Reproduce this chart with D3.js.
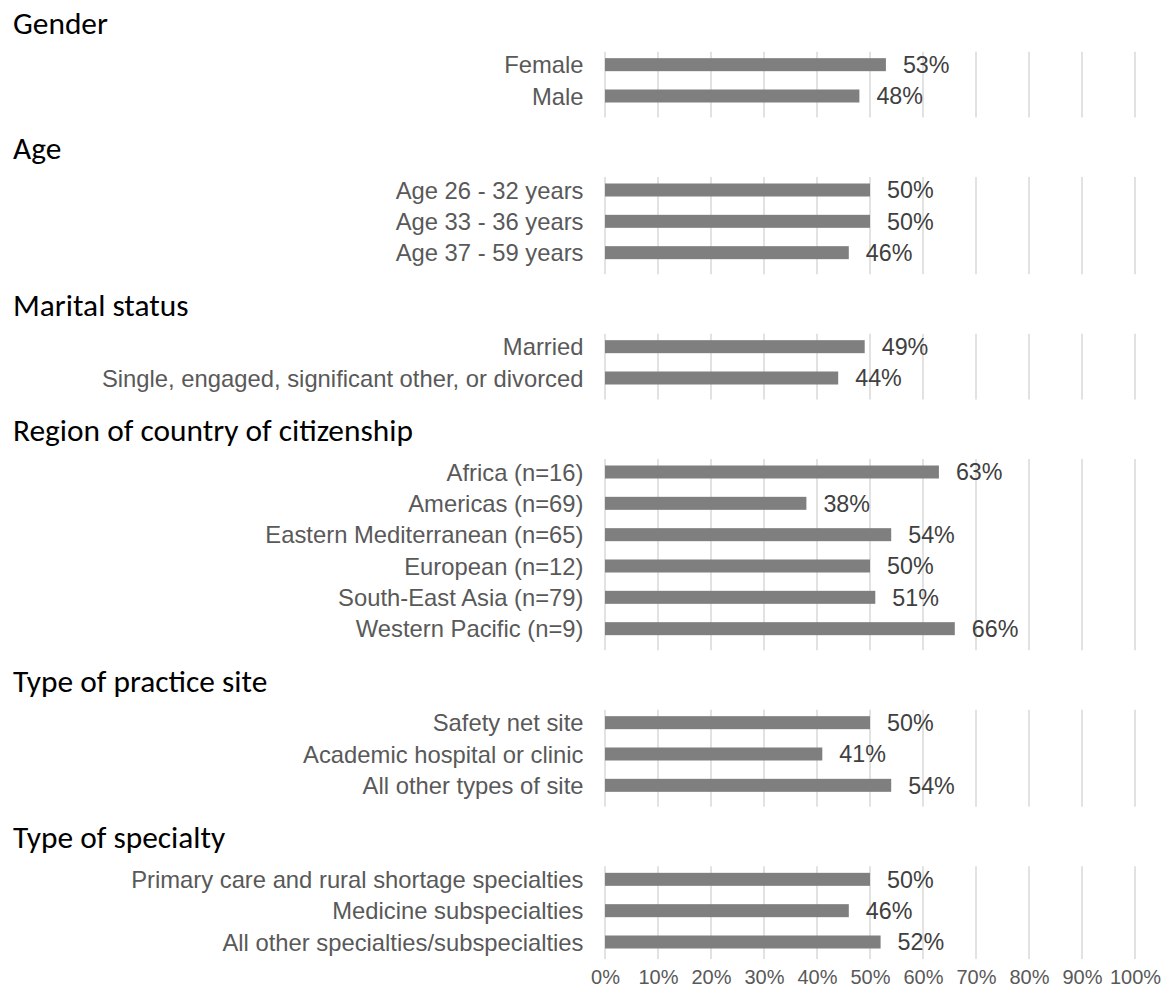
<!DOCTYPE html>
<html>
<head>
<meta charset="utf-8">
<script src="https://cdn.jsdelivr.net/npm/d3@7"></script>
<style>
  html, body { margin: 0; padding: 0; background: #fff; }
  svg { display: block; }
</style>
</head>
<body>
<svg id="chart" width="1175" height="994"></svg>
<script>
// ---- data ----
const groups = ["Gender", "Age", "Marital status", "Region of country of citizenship", "Type of practice site", "Type of specialty"];
const genderLabels = ["Female", "Male"];
const genderValues = [0.53, 0.48];
const ageLabels = ["Age 26 - 32 years", "Age 33 - 36 years", "Age 37 - 59 years"];
const ageValues = [0.50, 0.50, 0.46];
const maritalLabels = ["Married", "Single, engaged, significant other, or divorced"];
const maritalValues = [0.49, 0.44];
const regionLabels = ["Africa (n=16)", "Americas (n=69)", "Eastern Mediterranean (n=65)", "European (n=12)", "South-East Asia (n=79)", "Western Pacific (n=9)"];
const regionValues = [0.63, 0.38, 0.54, 0.50, 0.51, 0.66];
const siteLabels = ["Safety net site", "Academic hospital or clinic", "All other types of site"];
const siteValues = [0.50, 0.41, 0.54];
const specialtyLabels = ["Primary care and rural shortage specialties", "Medicine subspecialties", "All other specialties/subspecialties"];
const specialtyValues = [0.50, 0.46, 0.52];
const tickValues = [0, 0.1, 0.2, 0.3, 0.4, 0.5, 0.6, 0.7, 0.8, 0.9, 1.0];

const groupData = [
  [genderLabels, genderValues],
  [ageLabels, ageValues],
  [maritalLabels, maritalValues],
  [regionLabels, regionValues],
  [siteLabels, siteValues],
  [specialtyLabels, specialtyValues]
];

// ---- build rows (two spacer slots before each group) ----
const rows = [];
const keys = [];
groupData.forEach(([labels, values], gi) => {
  keys.push(`g${gi}-s0`, `g${gi}-s1`);
  labels.forEach((l, i) => {
    const key = `g${gi}-r${i}`;
    keys.push(key);
    rows.push({ key, group: gi, label: l, value: values[i] });
  });
});

const svg = d3.select("#chart");
const x = d3.scaleLinear().domain([0, 1]).range([605, 1135]);
const y = d3.scalePoint().domain(keys).range([2, 942]);
const barH = 13;
const pctFmt = d3.format(".0%");

const labelFont = "'Liberation Sans', Arial, sans-serif";
const headFont = "Carlito, Calibri, Lato, sans-serif";

// ---- per group gridlines ----
groupData.forEach(([labels], gi) => {
  const top = y(`g${gi}-r0`) - 13;
  const isLast = gi === groupData.length - 1;
  const bottom = y(`g${gi}-r${labels.length - 1}`) + (isLast ? 17 : 21.5);
  svg.append("g")
    .selectAll("line")
    .data(tickValues)
    .join("line")
    .attr("x1", d => x(d)).attr("x2", d => x(d))
    .attr("y1", top).attr("y2", bottom)
    .attr("stroke", "#d9d9d9")
    .attr("stroke-width", 1.5);
});

// ---- group headers ----
const heads = svg.append("g")
  .selectAll("text")
  .data(groups)
  .join("text")
  .attr("x", 13)
  .attr("y", (d, gi) => y(`g${gi}-r0`) - 31)
  .attr("font-family", headFont)
  .attr("font-size", 28)
  .attr("fill", "#000")
  .text(d => d);
// fit the header font so "Gender" spans ~95px like the reference
const gw = heads.node().getComputedTextLength();
if (gw > 0) heads.attr("font-size", 28 * 95 / gw);

// ---- bars ----
svg.append("g")
  .selectAll("rect")
  .data(rows)
  .join("rect")
  .attr("x", x(0))
  .attr("y", d => y(d.key) - barH / 2)
  .attr("width", d => x(d.value) - x(0))
  .attr("height", barH)
  .attr("fill", "#7f7f7f");

// ---- category labels ----
svg.append("g")
  .selectAll("text")
  .data(rows)
  .join("text")
  .attr("x", x(0) - 21.5)
  .attr("y", d => y(d.key))
  .attr("dy", "0.36em")
  .attr("text-anchor", "end")
  .attr("font-family", labelFont)
  .attr("font-size", 23.8)
  .attr("fill", "#595959")
  .text(d => d.label);

// ---- value labels ----
svg.append("g")
  .selectAll("text")
  .data(rows)
  .join("text")
  .attr("x", d => x(d.value) + 17)
  .attr("y", d => y(d.key))
  .attr("dy", "0.36em")
  .attr("font-family", labelFont)
  .attr("font-size", 23.3)
  .attr("fill", "#404040")
  .text(d => pctFmt(d.value));

// ---- x axis tick labels ----
const axis = d3.axisBottom(x).tickValues(tickValues).tickFormat(pctFmt).tickSize(0).tickPadding(0);
const ag = svg.append("g").attr("transform", "translate(0,970)").call(axis);
ag.select(".domain").remove();
ag.selectAll("text")
  .attr("font-family", labelFont)
  .attr("font-size", 20)
  .attr("fill", "#595959")
  .attr("dy", "0.71em");
</script>
</body>
</html>
